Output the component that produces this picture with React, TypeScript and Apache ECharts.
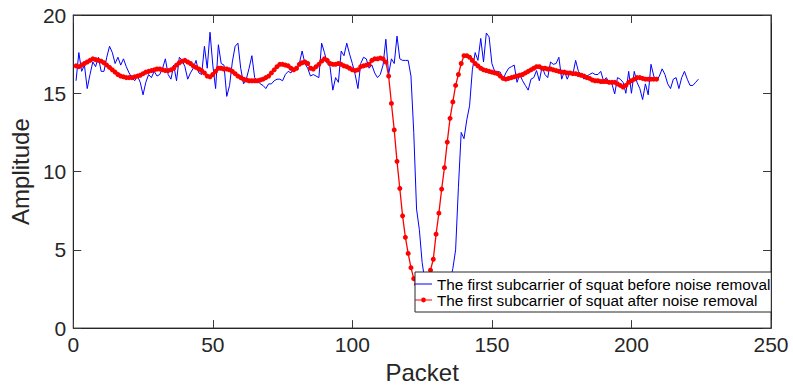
import React, { useEffect, useRef } from "react";
import * as echarts from "echarts";

// Packet index of the first sample (both series start at packet 1)
const startPacket = 1;

// Blue: raw amplitude of the first subcarrier (packets 1..224)
const beforeNoiseRemoval: number[] = [
  15.8, 17.6, 16.4, 16.8, 15.3, 16.2, 17.0, 16.7, 17.3, 16.4,
  16.4, 17.3, 18.0, 17.6, 16.9, 17.3, 16.8, 17.2, 16.7, 16.3,
  16.0, 15.8, 16.1, 15.7, 14.9, 15.7, 16.2, 16.0, 16.4, 16.1,
  16.2, 16.6, 17.2, 16.2, 15.9, 16.8, 15.8, 17.3, 17.1, 16.7,
  15.9, 16.3, 16.6, 17.1, 16.3, 16.2, 18.0, 16.6, 18.9, 16.8,
  15.3, 18.1, 16.9, 16.8, 14.8, 15.5, 17.0, 18.0, 18.2, 16.6,
  15.6, 15.9, 16.6, 17.4, 16.0, 15.8, 15.6, 15.5, 15.3, 15.6,
  15.6, 15.8, 15.9, 15.9, 15.8, 16.2, 16.4, 16.3, 16.6, 16.5,
  16.9, 17.7, 16.9, 16.6, 16.1, 16.2, 16.1, 16.0, 18.2, 17.6,
  16.9, 16.7, 15.2, 16.0, 15.7, 17.7, 17.4, 18.2, 17.5, 16.9,
  16.2, 15.3, 16.9, 17.3, 17.2, 16.6, 16.8, 16.3, 16.0, 16.2,
  16.8, 18.45, 16.2, 17.2, 16.9, 18.65, 17.2, 17.1, 17.1, 17.1,
  16.1, 12.5, 7.6, 6.3, 4.2, 3.0, 2.4, 2.1, 2.0, 2.0,
  2.1, 2.2, 2.3, 2.6, 3.0, 3.8, 5.0, 9.0, 12.5, 12.1,
  13.3, 14.2, 16.5, 17.6, 17.1, 18.5, 17.0, 18.85, 18.6, 16.9,
  16.4, 16.4, 16.35, 15.9, 16.3, 16.6, 16.7, 16.8, 15.7, 16.2,
  15.8, 15.5, 15.2, 15.9, 16.0, 16.45, 15.8, 16.7, 16.2, 16.0,
  17.0, 16.85, 16.9, 17.3, 15.9, 16.4, 15.9, 16.35, 16.2, 17.1,
  16.4, 16.2, 15.9, 16.1, 16.2, 16.3, 16.2, 16.2, 16.4, 15.8,
  16.0, 15.7, 15.6, 14.96, 16.0, 15.9, 15.7, 15.0, 16.4, 15.0,
  16.4, 15.7, 15.3, 14.6, 15.6, 14.9, 16.85, 16.1, 15.8, 16.1,
  16.56, 16.2, 15.6, 15.3, 15.9, 16.0, 15.3, 16.0, 16.4, 15.9,
  15.5, 15.5, 15.7, 15.9,
];

// Red: amplitude after noise removal (packets 1..209)
const afterNoiseRemoval: number[] = [
  16.75, 16.7, 16.8, 16.9, 17.0, 17.1, 17.2, 17.15, 17.1, 17.05,
  16.95, 16.8, 16.65, 16.5, 16.35, 16.2, 16.1, 16.05, 16.0, 16.0,
  16.0, 16.05, 16.1, 16.15, 16.25, 16.35, 16.4, 16.45, 16.5, 16.55,
  16.55, 16.5, 16.45, 16.45, 16.5, 16.6, 16.8, 16.95, 17.05, 17.1,
  17.0, 16.9, 16.75, 16.65, 16.55, 16.45, 16.3, 16.1, 16.05, 16.2,
  16.4, 16.6, 16.6, 16.55, 16.55, 16.5, 16.4, 16.25, 16.1, 16.0,
  15.9, 15.85, 15.8, 15.8, 15.8, 15.8, 15.85, 15.9, 16.0, 16.1,
  16.3, 16.5, 16.7, 16.85, 16.85, 16.8, 16.75, 16.6, 16.5, 16.6,
  16.85, 16.95, 17.0, 16.9, 16.6, 16.55, 16.7, 16.85, 17.05, 17.2,
  17.1, 16.9, 16.85, 16.85, 16.9, 16.85, 16.75, 16.7, 16.6, 16.5,
  16.45, 16.5, 16.7, 16.75, 16.8, 16.85, 17.1, 17.2, 17.2, 17.25,
  17.2, 17.0, 16.1, 14.35, 12.66, 10.65, 8.92, 7.17, 5.8, 4.77,
  3.86, 3.16, 2.8, 2.6, 2.6, 2.8, 3.2, 3.7, 4.4, 6.0,
  7.34, 8.88, 10.25, 11.88, 13.4, 14.45, 15.5, 16.2, 16.9, 17.4,
  17.4, 17.3, 17.1, 16.9, 16.75, 16.6, 16.5, 16.45, 16.4, 16.35,
  16.3, 16.25, 16.1, 15.95, 15.9, 15.95, 16.0, 16.05, 16.1, 16.15,
  16.2, 16.3, 16.4, 16.5, 16.6, 16.7, 16.7, 16.6, 16.6, 16.55,
  16.55, 16.5, 16.45, 16.4, 16.35, 16.35, 16.3, 16.3, 16.25, 16.25,
  16.2, 16.15, 16.1, 16.0, 15.95, 15.85, 15.8, 15.8, 15.75, 15.75,
  15.75, 15.7, 15.7, 15.7, 15.6, 15.5, 15.4, 15.5, 15.7, 15.8,
  15.9, 16.0, 16.0, 15.95, 15.9, 15.9, 15.9, 15.9, 15.9,
];

const seriesNames = [
  "The first subcarrier of squat before noise removal",
  "The first subcarrier of squat after noise removal",
];
const xAxisName = "Packet";
const yAxisName = "Amplitude";
const xRange = { min: 0, max: 250, interval: 50 };
const yRange = { min: 0, max: 20, interval: 5 };

const FONT = "'Liberation Sans', Arial, Helvetica, sans-serif";
const TEXT = "#262626";

// Legend icons: a plain line, and a line with a dot in its middle
const ICON_LINE =
  "path://M0,0 L0.01,0 L0.01,0.01 Z M0,2.5 L17,2.5 L17,3.5 L0,3.5 Z M0,6 L0.01,6 L0.01,5.99 Z";
const ICON_LINE_DOT =
  "path://M0,0 L0.01,0 L0.01,0.01 Z M0,2.4 L17,2.4 L17,3.6 L0,3.6 Z M6.1,3 A2.4,2.4 0 1 1 10.9,3 A2.4,2.4 0 1 1 6.1,3 Z M0,6 L0.01,6 L0.01,5.99 Z";

export default function App() {
  const ref = useRef<HTMLDivElement>(null);

  useEffect(() => {
    if (!ref.current) return;
    const chart = echarts.init(ref.current, undefined, { renderer: "svg" });

    const toPairs = (arr: number[]) => arr.map((v, i) => [i + startPacket, v]);

    const axisLine = () => ({ show: true, onZero: false, lineStyle: { color: TEXT, width: 1 } });
    const tick = () => ({ show: true, inside: true, length: 8, lineStyle: { color: "#3a3a3a", width: 1 } });

    chart.setOption({
      animation: false,
      backgroundColor: "#ffffff",
      textStyle: { fontFamily: FONT, color: TEXT },
      grid: {
        left: 71,
        right: 22,
        top: 15,
        bottom: 58,
        containLabel: false,
        show: true,
        borderColor: TEXT,
        borderWidth: 1,
        backgroundColor: "transparent",
      },
      legend: {
        show: true,
        orient: "vertical",
        left: 415,
        top: 272,
        backgroundColor: "#ffffff",
        borderColor: TEXT,
        borderWidth: 1,
        borderRadius: 0,
        padding: [4, 1, 4, 0],
        itemGap: 0,
        itemWidth: 17,
        itemHeight: 6,
        textStyle: { fontFamily: FONT, fontSize: 15.3, color: "#000", lineHeight: 16 },
        data: [
          { name: seriesNames[0], icon: ICON_LINE, itemStyle: { color: "#0000ff" } },
          { name: seriesNames[1], icon: ICON_LINE_DOT, itemStyle: { color: "#ff0000" } },
        ],
      },
      xAxis: [
        {
          type: "value",
          show: true,
          position: "bottom",
          min: xRange.min,
          max: xRange.max,
          interval: xRange.interval,
          name: xAxisName,
          nameLocation: "middle",
          nameGap: 30,
          nameTextStyle: { fontFamily: FONT, fontSize: 24, color: TEXT },
          axisLine: axisLine(),
          axisTick: tick(),
          axisLabel: { fontFamily: FONT, fontSize: 21, color: TEXT, margin: 6 },
          splitLine: { show: false },
        },
        {
          type: "value",
          show: true,
          position: "top",
          min: xRange.min,
          max: xRange.max,
          interval: xRange.interval,
          axisLine: axisLine(),
          axisTick: tick(),
          axisLabel: { show: false },
          splitLine: { show: false },
        },
      ],
      yAxis: [
        {
          type: "value",
          show: true,
          position: "left",
          min: yRange.min,
          max: yRange.max,
          interval: yRange.interval,
          name: yAxisName,
          nameLocation: "middle",
          nameGap: 36,
          nameTextStyle: { fontFamily: FONT, fontSize: 24, color: TEXT },
          axisLine: axisLine(),
          axisTick: tick(),
          axisLabel: { fontFamily: FONT, fontSize: 21, color: TEXT, margin: 7 },
          splitLine: { show: false },
        },
        {
          type: "value",
          show: true,
          position: "right",
          min: yRange.min,
          max: yRange.max,
          interval: yRange.interval,
          axisLine: axisLine(),
          axisTick: tick(),
          axisLabel: { show: false },
          splitLine: { show: false },
        },
      ],
      series: [
        {
          name: seriesNames[0],
          type: "line",
          xAxisIndex: 0,
          yAxisIndex: 0,
          data: toPairs(beforeNoiseRemoval),
          symbol: "none",
          lineStyle: { color: "#0000ff", width: 1 },
          itemStyle: { color: "#0000ff" },
          z: 2,
        },
        {
          name: seriesNames[1],
          type: "line",
          xAxisIndex: 0,
          yAxisIndex: 0,
          data: toPairs(afterNoiseRemoval),
          symbol: "circle",
          symbolSize: 5,
          showSymbol: true,
          showAllSymbol: true,
          lineStyle: { color: "#ff0000", width: 1.3 },
          itemStyle: { color: "#ff0000" },
          z: 3,
        },
        {
          // invisible copy bound to the mirror (top/right) axes so they get drawn
          name: "mirror",
          type: "line",
          xAxisIndex: 1,
          yAxisIndex: 1,
          data: toPairs(afterNoiseRemoval),
          symbol: "none",
          silent: true,
          lineStyle: { opacity: 0, width: 0 },
          itemStyle: { opacity: 0 },
          z: 0,
        },
      ],
    });

    return () => chart.dispose();
  }, []);

  return (
    <div
      ref={ref}
      style={{ position: "fixed", left: 0, top: 0, width: 793, height: 389, background: "#fff" }}
    />
  );
}
